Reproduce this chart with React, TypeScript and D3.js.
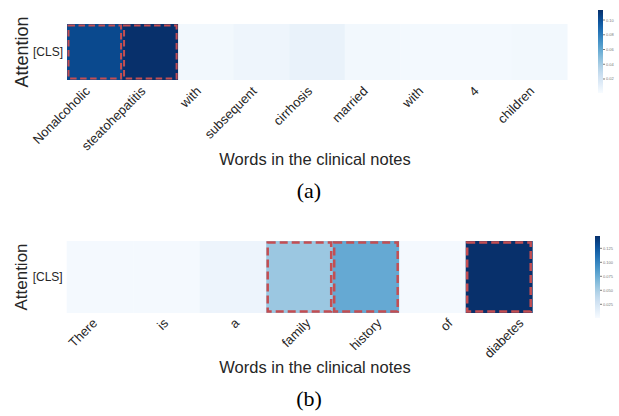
import React from "react";
import * as d3 from "d3";

const wordsA = ["Nonalcoholic", "steatohepatitis", "with", "subsequent", "cirrhosis", "married", "with", "4", "children"];
const valuesA = [0.103, 0.1136, 0.004, 0.006, 0.009, 0.004, 0.003, 0.003, 0.004];
const highlightA = [0, 1];
const ticksA = [0.02, 0.04, 0.06, 0.08, 0.1];

const wordsB = ["There", "is", "a", "family", "history", "of", "diabetes"];
const valuesB = [0.003, 0.003, 0.008, 0.056, 0.077, 0.003, 0.147];
const highlightB = [3, 4, 6];
const ticksB = [0.025, 0.05, 0.075, 0.1, 0.125];

const rowLabel = "[CLS]";
const yTitle = "Attention";
const xTitle = "Words in the clinical notes";

const SANS = "'Liberation Sans', Arial, sans-serif";
const SERIF = "'Liberation Serif', 'Times New Roman', serif";
const TXT = "#262626";
const RED = "#c44e52";

type PanelProps = {
  words: string[];
  values: number[];
  highlight: number[];
  ticks: number[];
  tickFmt: (v: number) => string;
  x0: number; x1: number; y0: number; y1: number;
  labX0: number; labX1: number; labY: number; labDx: number;
  cbX: number; cbY0: number; cbY1: number; cbMin: number; cbMax: number;
  titleY: number; capY: number; caption: string;
  dash: string; sw: number; labSize: number; yTitleSize: number; yTitleX: number;
};

function Panel(p: PanelProps) {
  const x = d3.scaleBand<number>().domain(d3.range(p.words.length)).range([p.x0, p.x1]).padding(0);
  const xl = d3.scaleBand<number>().domain(d3.range(p.words.length)).range([p.labX0, p.labX1]).padding(0);
  const color = d3.scaleSequential(d3.interpolateBlues).domain([p.cbMin, p.cbMax]);
  const cbScale = d3.scaleLinear().domain([p.cbMin, p.cbMax]).range([p.cbY1, p.cbY0]);
  const gid = "grad" + p.caption.replace(/[^a-z]/g, "");
  const stops = d3.range(0, 1.0001, 0.05);
  const cy = (p.y0 + p.y1) / 2;
  const inset = 1.5;
  return (
    <g>
      <defs>
        <linearGradient id={gid} x1="0" y1="1" x2="0" y2="0">
          {stops.map((t, i) => (
            <stop key={i} offset={t} stopColor={d3.interpolateBlues(t)} />
          ))}
        </linearGradient>
      </defs>
      {p.values.map((v, i) => (
        <rect key={i} x={x(i)!} y={p.y0} width={x.bandwidth() + 0.5} height={p.y1 - p.y0} fill={color(v)} />
      ))}
      {p.highlight.map((i) => (
        <rect key={"h" + i} x={x(i)! + inset} y={p.y0 + inset} width={x.bandwidth() - 2 * inset}
          height={p.y1 - p.y0 - 2 * inset} fill="none" stroke={RED} strokeWidth={p.sw} strokeDasharray={p.dash} />
      ))}
      {p.words.map((w, i) => {
        const tx = xl(i)! + xl.bandwidth() / 2 + p.labDx;
        return (
          <text key={"l" + i} transform={`translate(${tx},${p.labY}) rotate(-45)`} textAnchor="end"
            fontFamily={SANS} fontSize={p.labSize} fill={TXT}>{w}</text>
        );
      })}
      <text x={p.x0 - 4} y={cy} textAnchor="end" dominantBaseline="central" fontFamily={SANS} fontSize={12} fill={TXT}>{rowLabel}</text>
      <text transform={`translate(${p.yTitleX},${cy}) rotate(-90)`} textAnchor="middle" fontFamily={SANS} fontSize={p.yTitleSize} fill={TXT}>{yTitle}</text>
      <text x={315} y={p.titleY} textAnchor="middle" fontFamily={SANS} fontSize={16.5} fill={TXT}>{xTitle}</text>
      <text x={309} y={p.capY} textAnchor="middle" fontFamily={SERIF} fontSize={22} fill="#000">{p.caption}</text>
      <rect x={p.cbX} y={p.cbY0} width={5} height={p.cbY1 - p.cbY0} fill={`url(#${gid})`} />
      {p.ticks.map((t, i) => (
        <g key={"t" + i}>
          <line x1={p.cbX + 5} x2={p.cbX + 7} y1={cbScale(t)} y2={cbScale(t)} stroke="#444" strokeWidth={0.7} />
          <text x={p.cbX + 8} y={cbScale(t)} dominantBaseline="central" fontFamily={SANS} fontSize={4} fill="#777">{p.tickFmt(t)}</text>
        </g>
      ))}
    </g>
  );
}

export default function App() {
  const extA = d3.extent(valuesA) as [number, number];
  const extB = d3.extent(valuesB) as [number, number];
  return (
    <svg width={619} height={416} style={{ position: "absolute", left: 0, top: 0, background: "#fff" }}>
      <rect width={619} height={416} fill="#fff" />
      <Panel words={wordsA} values={valuesA} highlight={highlightA} ticks={ticksA} tickFmt={d3.format(".2f")}
        x0={67} x1={567} y0={24} y1={80} labX0={67} labX1={567} labY={92} labDx={-4}
        cbX={598} cbY0={10} cbY1={93} cbMin={0.001} cbMax={extA[1]}
        titleY={165} capY={198} caption="(a)" dash="6.5,3.5" sw={2} labSize={13}
        yTitleSize={18} yTitleX={28} />
      <Panel words={wordsB} values={valuesB} highlight={highlightB} ticks={ticksB} tickFmt={d3.format(".3f")}
        x0={66.7} x1={532.2} y0={241} y1={313} labX0={64.5} labX1={562} labY={324} labDx={-2}
        cbX={595} cbY0={236} cbY1={318} cbMin={0.0005} cbMax={extB[1]}
        titleY={373} capY={406} caption="(b)" dash="8,4" sw={2.5} labSize={13}
        yTitleSize={17} yTitleX={27} />
    </svg>
  );
}
